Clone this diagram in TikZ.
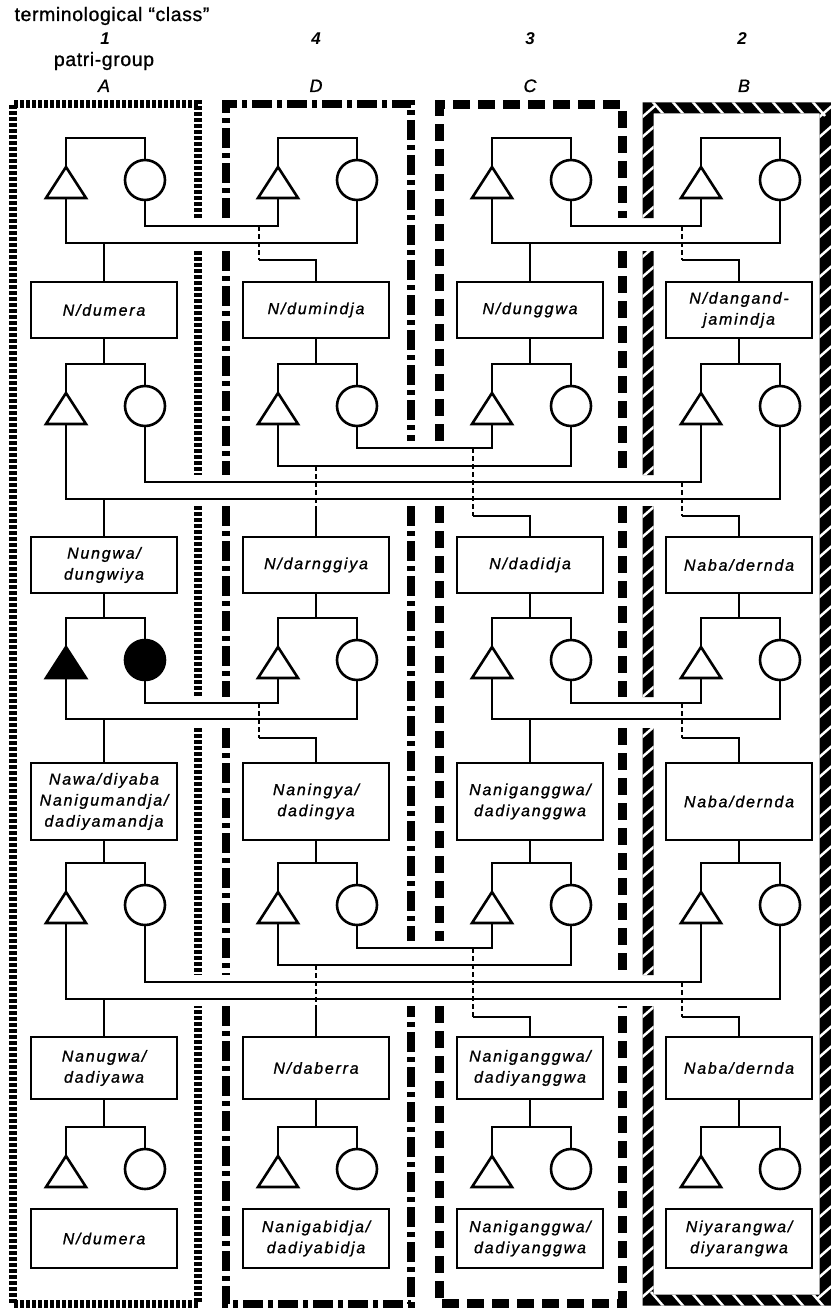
\documentclass[tikz,border=0pt]{standalone}
\usepackage{fontspec}
\setmainfont{Liberation Sans}
\newfontfamily\boxff{Liberation Sans}[LetterSpace=11,FakeBold=1]
\newfontfamily\hdrff{Liberation Sans}[LetterSpace=3,FakeBold=1]
\newfontfamily\labff{Liberation Sans}[FakeBold=1]
\newcommand\boxfont{\boxff\itshape\fontsize{16}{21}\selectfont}
\newcommand\hdrfont{\hdrff\fontsize{19.5}{23}\selectfont}
\newcommand\labfont{\labff\itshape\fontsize{18}{22}\selectfont}
\newcommand\numfont{\bfseries\itshape\fontsize{17}{22}\selectfont}
\tikzset{
  sym/.style={line width=2.6pt, line join=miter},
  wom/.style={circle, draw, line width=2.6pt, minimum size=40pt, inner sep=0pt, outer sep=0pt},
  con/.style={line width=2.2pt, line cap=butt, line join=miter},
  brk/.style={con, dash pattern=on 5pt off 3pt},
  box/.style={draw, line width=1.8pt, minimum width=146pt, inner sep=0pt, outer sep=0pt, align=center, font=\boxfont, fill=white},
  hdr/.style={font=\hdrfont, inner sep=0pt, anchor=base},
  lab/.style={font=\labfont, inner sep=0pt, anchor=base},
  num/.style={font=\numfont, inner sep=0pt, anchor=base},
  frA/.style={line width=8pt, dash pattern=on 4pt off 2pt},
  frD/.style={line width=8pt, dash pattern=on 20pt off 5pt on 5pt off 5pt},
  frC/.style={line width=9pt, dash pattern=on 17pt off 8pt},
  hatch/.style={white, line width=2.5pt},
}
% #1 prefix, #2 column centre x, #3 bracket y, #4 fill
\newcommand{\KinPair}[4]{%
  \coordinate (#1m) at (#2-38,#3);
  \coordinate (#1f) at (#2+41,#3);
  \coordinate (#1mt) at (#2-38,#3+29);
  \coordinate (#1mb) at (#2-38,#3+60);
  \draw[sym, fill=#4] (#2-58,#3+60) -- (#1mt) -- (#2-18,#3+60) -- cycle;
  \node[wom, fill=#4] (#1w) at (#2+41,#3+42) {};
  \draw[con] (#1mt) -- (#1m) -- (#1f) -- (#1w.north);
}
\begin{document}
\begin{tikzpicture}[x=1pt, y=-1pt]
\useasboundingbox (0,0) rectangle (830,1308);
\fill[white] (0,0) rectangle (830,1308);

% ---------- header ----------
\node[hdr] (title) at (112,21) {terminological “class”};
\node[num] (n1) at (105,45) {1};
\node[num] (n4) at (316,45) {4};
\node[num] (n3) at (530,45) {3};
\node[num] (n2) at (742,45) {2};
\node[hdr] (pg) at (104,66) {patri-group};
\node[lab] (gA) at (104,92) {A};
\node[lab] (gD) at (316,92) {D};
\node[lab] (gC) at (530,92) {C};
\node[lab] (gB) at (744,92) {B};

% ---------- frames ----------
% A (dotted)
\draw[frA] (198,218) -- (198,104) -- (13,104) -- (13,1304) -- (198,1304) -- (198,1006);
\draw[frA] (198,251) -- (198,475);
\draw[frA] (198,506) -- (198,697);
\draw[frA] (198,728) -- (198,975);
% D (dash-dot)
\draw[frD] (226,218) -- (226,104) -- (411,104) -- (411,441);
\draw[frD] (226,251) -- (226,475);
\draw[frD] (226,506) -- (226,697);
\draw[frD] (226,728) -- (226,975);
\draw[frD] (226,1006) -- (226,1304) -- (411,1304) -- (411,1006);
\draw[frD] (411,506) -- (411,941);
% C (dashed)
\draw[frC] (439,441) -- (439,105) -- (622,105) -- (622,218);
\draw[frC] (622,251) -- (622,475);
\draw[frC] (622,506) -- (622,697);
\draw[frC] (622,728) -- (622,975);
\draw[frC] (439,506) -- (439,941);
\draw[frC] (439,1006) -- (439,1303) -- (622,1303) -- (622,1006);
% B (hatched)
\def\Bbands{(642.5,102.5) rectangle (831,113.5)
  (819.5,102.5) rectangle (831,1305.5)
  (642.5,1294.5) rectangle (831,1305.5)
  (642.5,102.5) rectangle (653.5,218)
  (642.5,251) rectangle (653.5,475)
  (642.5,506) rectangle (653.5,697)
  (642.5,728) rectangle (653.5,975)
  (642.5,1006) rectangle (653.5,1305.5)}
\fill[black] \Bbands;
\begin{scope}
  \clip \Bbands;
  \foreach \y in {112,132,...,1300} {
    \draw[hatch] (640,\y+7) -- (656,\y-7);
    \draw[hatch] (817,\y+7) -- (833,\y-7);
  }
  \foreach \x in {658,678,...,830} {
    \draw[hatch] (\x-7,100) -- (\x+7,116);
    \draw[hatch] (\x-7,1292) -- (\x+7,1308);
  }
\end{scope}

% ---------- generation 1 ----------
\KinPair{P1A}{104}{138}{white}
\KinPair{P1D}{316}{138}{white}
\KinPair{P1C}{530}{138}{white}
\KinPair{P1B}{739}{138}{white}
\draw[con] (P1Aw.south) |- (P1Dmb |- 0,226) -- (P1Dmb);
\draw[con] (P1Amb) |- (P1Dw.south |- 0,243) -- (P1Dw.south);
\draw[con] (P1Cw.south) |- (P1Bmb |- 0,226) -- (P1Bmb);
\draw[con] (P1Cmb) |- (P1Bw.south |- 0,243) -- (P1Bw.south);

\node[box, minimum height=56pt] (A1) at (104,310) {N/dumera};
\node[box, minimum height=56pt] (D1) at (316,310) {N/dumindja};
\node[box, minimum height=56pt] (C1) at (530,310) {N/dunggwa};
\node[box, minimum height=56pt] (B1) at (739,310) {N/dangand-\\jamindja};

\draw[con] (A1.north) -- (A1.north |- 0,243);
\coordinate (D1e) at (259,260);
\draw[brk] (D1e |- 0,226) -- (D1e);
\draw[con] (D1e) -| (D1.north);
\draw[con] (C1.north) -- (C1.north |- 0,243);
\coordinate (B1e) at (682,260);
\draw[brk] (B1e |- 0,226) -- (B1e);
\draw[con] (B1e) -| (B1.north);

% ---------- generation 2 ----------
\KinPair{P2A}{104}{364}{white}
\KinPair{P2D}{316}{364}{white}
\KinPair{P2C}{530}{364}{white}
\KinPair{P2B}{739}{364}{white}
\draw[con] (A1.south) -- (A1.south |- P2Am);
\draw[con] (D1.south) -- (D1.south |- P2Dm);
\draw[con] (C1.south) -- (C1.south |- P2Cm);
\draw[con] (B1.south) -- (B1.south |- P2Bm);
\draw[con] (P2Dw.south) |- (P2Cmb |- 0,448) -- (P2Cmb);
\draw[con] (P2Dmb) |- (P2Cw.south |- 0,466) -- (P2Cw.south);
\draw[con] (P2Aw.south) |- (P2Bmb |- 0,482) -- (P2Bmb);
\draw[con] (P2Amb) |- (P2Bw.south |- 0,499) -- (P2Bw.south);

\node[box, minimum height=56pt] (A2) at (104,565) {Nungwa/\\dungwiya};
\node[box, minimum height=56pt] (D2) at (316,565) {N/darnggiya};
\node[box, minimum height=56pt] (C2) at (530,565) {N/dadidja};
\node[box, minimum height=56pt] (B2) at (739,565) {Naba/dernda};

\draw[con] (A2.north) -- (A2.north |- 0,499);
\coordinate (D2e) at (316,507);
\draw[brk] (D2e |- 0,466) -- (D2e);
\draw[con] (D2e) -- (D2.north);
\coordinate (C2e) at (473,516);
\draw[brk] (C2e |- 0,448) -- (C2e);
\draw[con] (C2e) -| (C2.north);
\coordinate (B2e) at (682,516);
\draw[brk] (B2e |- 0,482) -- (B2e);
\draw[con] (B2e) -| (B2.north);

% ---------- generation 3 ----------
\KinPair{P3A}{104}{618}{black}
\KinPair{P3D}{316}{618}{white}
\KinPair{P3C}{530}{618}{white}
\KinPair{P3B}{739}{618}{white}
\draw[con] (A2.south) -- (A2.south |- P3Am);
\draw[con] (D2.south) -- (D2.south |- P3Dm);
\draw[con] (C2.south) -- (C2.south |- P3Cm);
\draw[con] (B2.south) -- (B2.south |- P3Bm);
\draw[con] (P3Aw.south) |- (P3Dmb |- 0,703) -- (P3Dmb);
\draw[con] (P3Amb) |- (P3Dw.south |- 0,719) -- (P3Dw.south);
\draw[con] (P3Cw.south) |- (P3Bmb |- 0,703) -- (P3Bmb);
\draw[con] (P3Cmb) |- (P3Bw.south |- 0,719) -- (P3Bw.south);

\node[box, minimum height=77pt] (A3) at (104,801.5) {Nawa/diyaba\\Nanigumandja/\\dadiyamandja};
\node[box, minimum height=77pt] (D3) at (316,801.5) {Naningya/\\dadingya};
\node[box, minimum height=77pt] (C3) at (530,801.5) {Naniganggwa/\\dadiyanggwa};
\node[box, minimum height=77pt] (B3) at (739,801.5) {Naba/dernda};

\draw[con] (A3.north) -- (A3.north |- 0,719);
\coordinate (D3e) at (259,738);
\draw[brk] (D3e |- 0,703) -- (D3e);
\draw[con] (D3e) -| (D3.north);
\draw[con] (C3.north) -- (C3.north |- 0,719);
\coordinate (B3e) at (682,738);
\draw[brk] (B3e |- 0,703) -- (B3e);
\draw[con] (B3e) -| (B3.north);

% ---------- generation 4 ----------
\KinPair{P4A}{104}{863}{white}
\KinPair{P4D}{316}{863}{white}
\KinPair{P4C}{530}{863}{white}
\KinPair{P4B}{739}{863}{white}
\draw[con] (A3.south) -- (A3.south |- P4Am);
\draw[con] (D3.south) -- (D3.south |- P4Dm);
\draw[con] (C3.south) -- (C3.south |- P4Cm);
\draw[con] (B3.south) -- (B3.south |- P4Bm);
\draw[con] (P4Dw.south) |- (P4Cmb |- 0,948) -- (P4Cmb);
\draw[con] (P4Dmb) |- (P4Cw.south |- 0,965) -- (P4Cw.south);
\draw[con] (P4Aw.south) |- (P4Bmb |- 0,982) -- (P4Bmb);
\draw[con] (P4Amb) |- (P4Bw.south |- 0,999) -- (P4Bw.south);

\node[box, minimum height=62pt] (A4) at (104,1068) {Nanugwa/\\dadiyawa};
\node[box, minimum height=62pt] (D4) at (316,1068) {N/daberra};
\node[box, minimum height=62pt] (C4) at (530,1068) {Naniganggwa/\\dadiyanggwa};
\node[box, minimum height=62pt] (B4) at (739,1068) {Naba/dernda};

\draw[con] (A4.north) -- (A4.north |- 0,999);
\coordinate (D4e) at (316,1007);
\draw[brk] (D4e |- 0,965) -- (D4e);
\draw[con] (D4e) -- (D4.north);
\coordinate (C4e) at (473,1017);
\draw[brk] (C4e |- 0,948) -- (C4e);
\draw[con] (C4e) -| (C4.north);
\coordinate (B4e) at (682,1017);
\draw[brk] (B4e |- 0,982) -- (B4e);
\draw[con] (B4e) -| (B4.north);

% ---------- generation 5 ----------
\KinPair{P5A}{104}{1127}{white}
\KinPair{P5D}{316}{1127}{white}
\KinPair{P5C}{530}{1127}{white}
\KinPair{P5B}{739}{1127}{white}
\draw[con] (A4.south) -- (A4.south |- P5Am);
\draw[con] (D4.south) -- (D4.south |- P5Dm);
\draw[con] (C4.south) -- (C4.south |- P5Cm);
\draw[con] (B4.south) -- (B4.south |- P5Bm);

\node[box, minimum height=59pt] (A5) at (104,1238.5) {N/dumera};
\node[box, minimum height=59pt] (D5) at (316,1238.5) {Nanigabidja/\\dadiyabidja};
\node[box, minimum height=59pt] (C5) at (530,1238.5) {Naniganggwa/\\dadiyanggwa};
\node[box, minimum height=59pt] (B5) at (739,1238.5) {Niyarangwa/\\diyarangwa};
\end{tikzpicture}
\end{document}
